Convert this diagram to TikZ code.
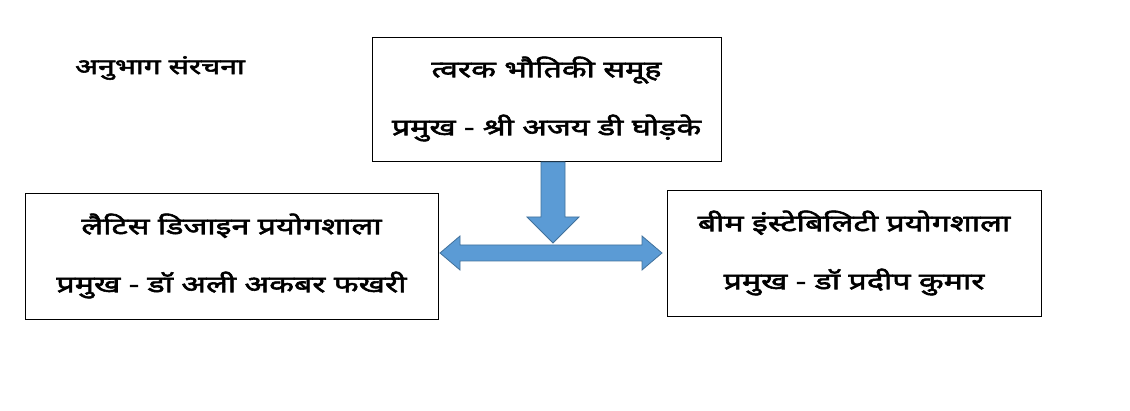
\documentclass[tikz,border=0pt]{standalone}
\usepackage{fontspec}
\newfontfamily\hin[Script=Devanagari,FakeBold=2.5,FakeStretch=1.4]{Noto Sans}
\begin{document}
\begin{tikzpicture}[x=1pt,y=-1pt,
 box/.style={draw,line width=0.8pt,align=center,font=\hin\fontsize{23}{58}\selectfont},
 arr/.style={fill={rgb,255:red,91;green,155;blue,213},draw={rgb,255:red,65;green,113;blue,156},line width=0.8pt}]
\useasboundingbox (0,0) rectangle (1130,411);
\node[font=\hin\fontsize{21.5}{24}\selectfont] (title) at (160,68) {अनुभाग संरचना};
\node[box,minimum width=349,minimum height=124] (top) at (546.5,99) {त्वरक भौतिकी समूह\\प्रमुख - श्री अजय डी घोड़के};
\node[box,minimum width=413,minimum height=126] (left) at (231.5,256) {लैटिस डिजाइन प्रयोगशाला\\प्रमुख - डॉ अली अकबर फखरी};
\node[box,minimum width=374,minimum height=126] (right) at (854,253) {बीम इंस्टेबिलिटी प्रयोगशाला\\प्रमुख - डॉ प्रदीप कुमार};
\draw[arr] (541,162) -- (565,162) -- (565,217) -- (579,217) -- (553,243) -- (527,217) -- (541,217) -- cycle;
\draw[arr] (440,253) -- (460,236) -- (460,245) -- (642,245) -- (642,236) -- (662,253) -- (642,270) -- (642,261) -- (460,261) -- (460,270) -- cycle;
\end{tikzpicture}
\end{document}
